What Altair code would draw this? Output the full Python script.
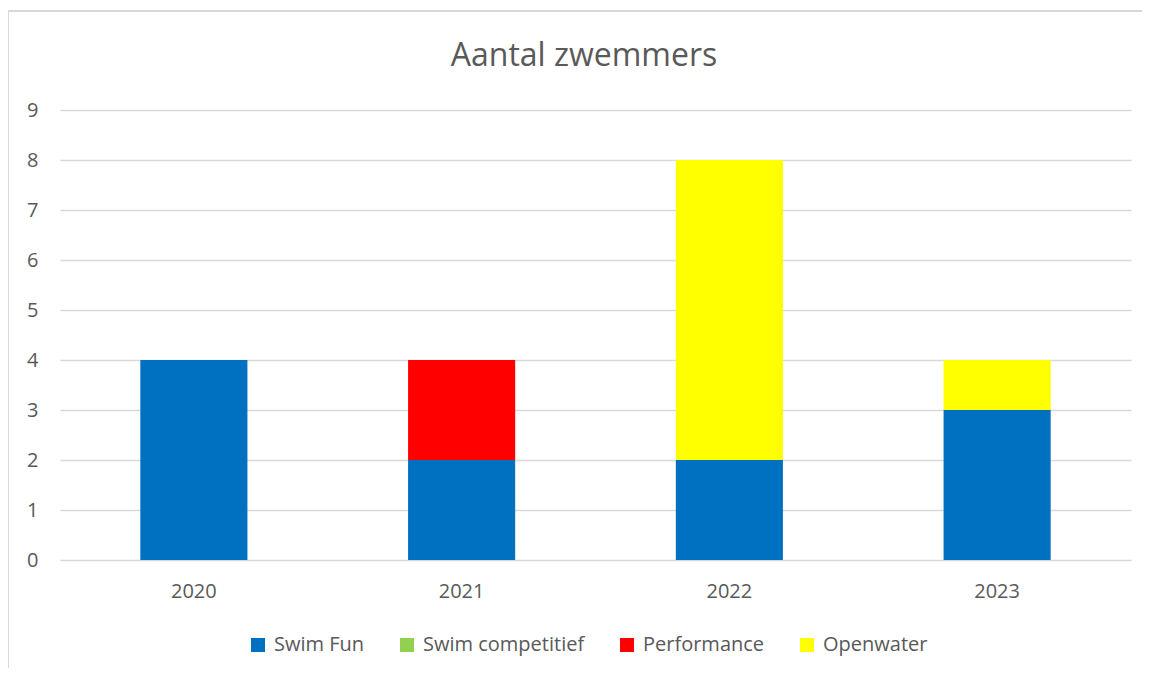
import altair as alt
import pandas as pd

years = ["2020", "2021", "2022", "2023"]
series = ["Swim Fun", "Swim competitief", "Performance", "Openwater"]
swim_fun = [4, 2, 2, 3]
swim_competitief = [0, 0, 0, 0]
performance = [0, 2, 0, 0]
openwater = [0, 0, 6, 1]
colors = ["#0070C0", "#92D050", "#FF0000", "#FFFF00"]
y_ticks = [0, 1, 2, 3, 4, 5, 6, 7, 8, 9]
title_text = "Aantal zwemmers"

rows = []
for si, (name, vals) in enumerate(zip(series, [swim_fun, swim_competitief, performance, openwater])):
    for y, v in zip(years, vals):
        rows.append({"Jaar": y, "Categorie": name, "Aantal": v, "idx": si})
df = pd.DataFrame(rows)

FONT = "Open Sans"
GREY = "#595959"
GRID = "#D9D9D9"

bars = alt.Chart(df).mark_bar(strokeWidth=0).encode(
    x=alt.X("Jaar:N", sort=years,
            scale=alt.Scale(paddingInner=0.6, paddingOuter=0.3),
            axis=alt.Axis(title=None, labelAngle=0, ticks=False, domain=False,
                          labelFont=FONT, labelFontSize=20, labelColor=GREY,
                          labelPadding=21)),
    y=alt.Y("Aantal:Q", stack="zero",
            scale=alt.Scale(domain=[0, 9], nice=False),
            axis=alt.Axis(title=None, values=y_ticks, ticks=False, domain=False,
                          grid=True, gridColor=GRID, gridWidth=1.5,
                          labelFont=FONT, labelFontSize=20, labelColor=GREY,
                          labelPadding=22)),
    color=alt.Color("Categorie:N",
                    scale=alt.Scale(domain=series, range=colors),
                    legend=alt.Legend(title=None, orient="none", direction="horizontal",
                                      columns=4, legendX=188, legendY=525,
                                      symbolType="square", symbolSize=196,
                                      symbolStrokeWidth=0, labelOffset=6,
                                      columnPadding=32, labelFont=FONT,
                                      labelFontSize=20, labelColor=GREY,
                                      labelLimit=400)),
    order=alt.Order("idx:Q", sort="ascending"),
)

title = alt.Chart(pd.DataFrame({"t": [title_text]})).mark_text(
    font=FONT, fontSize=32, color=GREY, align="center", baseline="alphabetic"
).encode(text="t:N", x=alt.value(524), y=alt.value(-44))

border_top = alt.Chart(df).mark_rule(color=GRID, strokeWidth=1.5).encode(
    x=alt.value(-52), x2=alt.value(1100), y=alt.value(-99))
border_left = alt.Chart(df).mark_rule(color=GRID, strokeWidth=1.5).encode(
    x=alt.value(-52), y=alt.value(-99), y2=alt.value(600))

chart = alt.layer(border_top, border_left, title, bars).properties(
    width=1071, height=450,
    autosize=alt.AutoSizeParams(type="none"),
    padding={"left": 52, "top": 102, "right": 11, "bottom": 108},
).configure(background="white").configure_view(stroke=None)

chart.save("out.html", embed_options={"renderer": "svg", "actions": False})
